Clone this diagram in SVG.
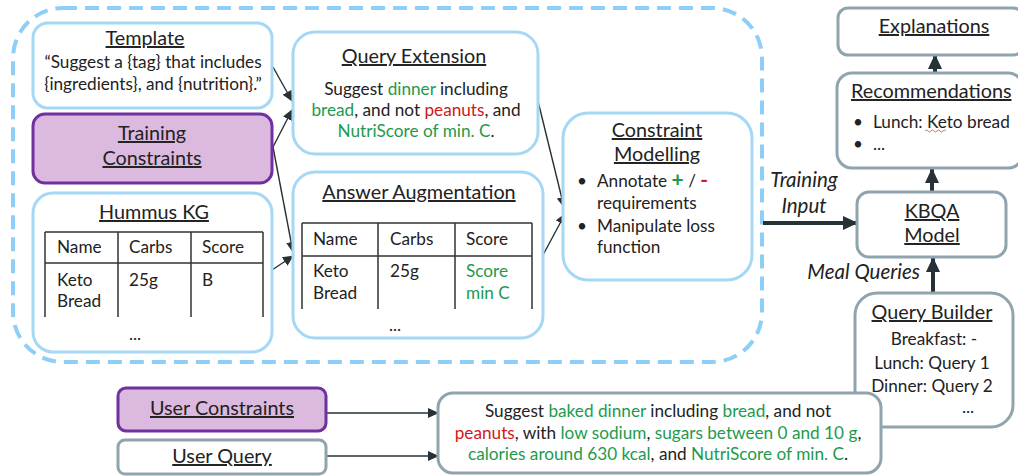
<svg xmlns="http://www.w3.org/2000/svg" width="1018" height="476" viewBox="0 0 1018 476">
<defs>
<style>
text{font-family:Lato,"Liberation Sans",sans-serif;fill:#222;}
.t{font-size:19.8px;text-decoration:underline;}
.b{font-size:17.2px;}
.c{text-anchor:middle;}
.i{font-style:italic;font-size:20.5px;}
.g{fill:#1e9a4c;}
.r{fill:#d01818;}
.blue{fill:#fff;stroke:#a6d8f6;stroke-width:3;}
.grey{fill:#fff;stroke:#90a4ae;stroke-width:3;}
.purp{fill:#dcb9de;stroke:#7030a0;stroke-width:3;}
.tbl{stroke:#333;stroke-width:1.5;fill:none;}
.thin{stroke:#263238;stroke-width:1.4;fill:none;marker-end:url(#ah);}
.thick{stroke:#263238;stroke-width:4;fill:none;marker-end:url(#ahb);}
</style>
<marker id="ah" markerUnits="userSpaceOnUse" markerWidth="12" markerHeight="10" refX="10" refY="5" orient="auto"><path d="M0,0 L11,5 L0,10 z" fill="#263238"/></marker>
<marker id="ahb" markerUnits="userSpaceOnUse" markerWidth="16" markerHeight="14" refX="14" refY="7" orient="auto"><path d="M0,0 L15,7 L0,14 z" fill="#263238"/></marker>
</defs>
<rect width="1018" height="476" fill="#fff"/>
<rect id="outline" x="13" y="8" width="749" height="354" rx="50" fill="none" stroke="#8dcff7" stroke-width="4" stroke-dasharray="14 8"/>

<g id="connectors">
<line class="thin" x1="273" y1="67" x2="292" y2="101"/>
<line class="thin" x1="273" y1="147" x2="292" y2="110"/>
<line class="thin" x1="273" y1="147" x2="293" y2="252"/>
<line class="thin" x1="272" y1="270" x2="293" y2="256"/>
<line class="thin" x1="536" y1="93" x2="564" y2="207"/>
<line class="thin" x1="543" y1="255" x2="565" y2="214"/>
<line class="thick" x1="763" y1="223" x2="857" y2="223"/>
<line class="thick" x1="933" y1="298" x2="933" y2="258"/>
<line class="thick" x1="932" y1="192" x2="932" y2="169"/>
<line class="thick" x1="935" y1="73" x2="935" y2="55"/>
<line class="thin" x1="326" y1="413" x2="438" y2="413"/>
<line class="thin" x1="326" y1="456" x2="438" y2="456"/>
<line class="thin" x1="868" y1="422" x2="919" y2="404"/>
<text class="i c" x="804" y="187">Training</text>
<text class="i c" x="804" y="213">Input</text>
<text class="i" x="920" y="279" text-anchor="end">Meal Queries</text>
</g>

<g id="template">
<rect class="blue" x="33" y="23" width="239" height="85" rx="15"/>
<text class="t c" x="145" y="45">Template</text>
<text class="b c" x="153" y="68">“Suggest a {tag} that includes</text>
<text class="b c" x="153" y="90">{ingredients}, and {nutrition}.”</text>
</g>

<g id="training-constraints">
<rect class="purp" x="33" y="114" width="239" height="69" rx="12"/>
<text class="t c" x="152" y="140">Training</text>
<text class="t c" x="152" y="165">Constraints</text>
</g>

<g id="hummus-kg">
<rect class="blue" x="33" y="193" width="239" height="159" rx="20"/>
<text class="t c" x="154" y="219">Hummus KG</text>
<path class="tbl" d="M45,232 H263 M45,263 H263 M45,232 V317 M118,232 V317 M191,232 V317 M263,232 V317"/>
<text class="b" x="57" y="253">Name</text>
<text class="b" x="129" y="253">Carbs</text>
<text class="b" x="202" y="253">Score</text>
<text class="b" x="57" y="286">Keto</text>
<text class="b" x="57" y="307">Bread</text>
<text class="b" x="129" y="286">25g</text>
<text class="b" x="202" y="286">B</text>
<text class="b c" x="135" y="340">...</text>
</g>

<g id="query-extension">
<rect class="blue" x="293" y="32" width="245" height="122" rx="22"/>
<text class="t c" x="414" y="63">Query Extension</text>
<text class="b c" x="416" y="95">Suggest <tspan class="g">dinner</tspan> including</text>
<text class="b c" x="416" y="116"><tspan class="g">bread</tspan>, and not <tspan class="r">peanuts</tspan>, and</text>
<text class="b c" x="416" y="137"><tspan class="g">NutriScore of min. C</tspan>.</text>
</g>

<g id="answer-augmentation">
<rect class="blue" x="293" y="172" width="250" height="166" rx="22"/>
<text class="t c" x="419" y="199">Answer Augmentation</text>
<path class="tbl" d="M302,223 H532 M302,256 H532 M302,223 V309 M378,223 V309 M455,223 V309 M532,223 V309"/>
<text class="b" x="313" y="245">Name</text>
<text class="b" x="390" y="245">Carbs</text>
<text class="b" x="466" y="245">Score</text>
<text class="b" x="313" y="277">Keto</text>
<text class="b" x="313" y="299">Bread</text>
<text class="b" x="390" y="277">25g</text>
<text class="b g" x="466" y="277">Score</text>
<text class="b g" x="466" y="299">min C</text>
<text class="b c" x="395" y="331">...</text>
</g>

<g id="constraint-modelling">
<rect class="blue" x="563" y="113" width="189" height="167" rx="25"/>
<text class="t c" x="657" y="137">Constraint</text>
<text class="t c" x="657" y="161">Modelling</text>
<text class="b" x="577" y="187">•</text>
<text class="b" x="597" y="187">Annotate <tspan class="g" font-weight="bold" font-size="21">+</tspan> / <tspan class="r" font-weight="bold" font-size="21">-</tspan></text>
<text class="b" x="597" y="209">requirements</text>
<text class="b" x="577" y="232">•</text>
<text class="b" x="597" y="232">Manipulate loss</text>
<text class="b" x="597" y="253">function</text>
</g>

<g id="explanations">
<rect class="grey" x="838" y="8" width="185" height="47" rx="10"/>
<text class="t c" x="934" y="33">Explanations</text>
</g>

<g id="recommendations">
<rect class="grey" x="837" y="73" width="186" height="95" rx="15"/>
<text class="t" x="851" y="98">Recommendations</text>
<text class="b" x="853" y="128">•</text>
<text class="b" x="873" y="128">Lunch: Keto bread</text>
<path d="M925,131 q1.5,-2 3,0 t3,0 t3,0 t3,0 t3,0 t3,0 t3,0" fill="none" stroke="#e04040" stroke-width="0.8"/>
<text class="b" x="853" y="150">•</text>
<text class="b" x="873" y="150">...</text>
</g>

<g id="kbqa-model">
<rect class="grey" x="857" y="192" width="149" height="65" rx="12"/>
<text class="t c" x="932" y="218">KBQA</text>
<text class="t c" x="932" y="242">Model</text>
</g>

<g id="query-builder">
<rect class="grey" x="855" y="293" width="158" height="134" rx="22"/>
<text class="t c" x="932" y="319">Query Builder</text>
<text class="b c" x="934" y="345">Breakfast: -</text>
<text class="b c" x="932" y="369">Lunch: Query 1</text>
<text class="b c" x="932" y="392">Dinner: Query 2</text>
<text class="b c" x="968" y="413">...</text>
</g>

<g id="user-query-text">
<rect class="grey" x="438" y="393" width="443" height="80" rx="15"/>
<text class="b c" x="658" y="417">Suggest <tspan class="g">baked dinner</tspan> including <tspan class="g">bread</tspan>, and not</text>
<text class="b c" x="658" y="439"><tspan class="r">peanuts</tspan>, with <tspan class="g">low sodium</tspan>, <tspan class="g">sugars between 0 and 10 g</tspan>,</text>
<text class="b c" x="658" y="460"><tspan class="g">calories around 630 kcal</tspan>, and <tspan class="g">NutriScore of min. C</tspan>.</text>
</g>

<g id="user-constraints">
<rect class="purp" x="118" y="388" width="208" height="43" rx="8"/>
<text class="t c" x="222" y="415">User Constraints</text>
</g>

<g id="user-query">
<rect class="grey" x="118" y="440" width="208" height="34" rx="7"/>
<text class="t c" x="222" y="463">User Query</text>
</g>
</svg>
